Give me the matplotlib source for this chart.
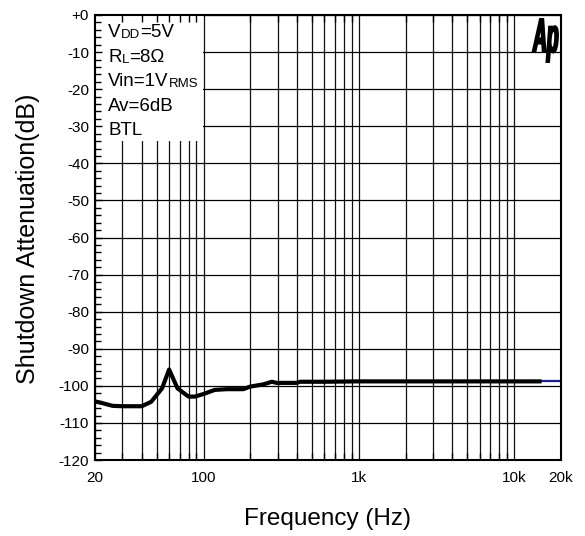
import matplotlib
matplotlib.use("Agg")
import matplotlib.pyplot as plt
from matplotlib.patches import Rectangle, PathPatch
from matplotlib.textpath import TextPath
from matplotlib.font_manager import FontProperties
from matplotlib.transforms import Affine2D, IdentityTransform

plt.rcParams['font.family'] = ['Liberation Sans', 'DejaVu Sans']

# ---- data ----
freq = [20, 22, 26, 30, 35, 40, 46, 54, 60, 68, 80, 88, 100, 118, 141, 180,
        200, 243, 275, 295, 398, 418, 600, 1000, 2000, 5000, 10000, 15000]
atten = [-104.2, -104.6, -105.4, -105.5, -105.5, -105.5, -104.3, -100.7, -95.6,
         -100.7, -102.9, -102.9, -102.2, -101.1, -100.9, -100.9, -100.2, -99.6,
         -98.9, -99.2, -99.2, -98.9, -98.9, -98.8, -98.8, -98.8, -98.8, -98.8]
freq_b = [15000, 20000]
atten_b = [-98.8, -98.8]

x_major = [20, 100, 1000, 10000, 20000]
x_major_labels = ["20", "100", "1k", "10k", "20k"]
x_grid = [20, 30, 40, 50, 60, 70, 80, 90, 100, 200, 300, 400, 500, 600, 700,
          800, 900, 1000, 2000, 3000, 4000, 5000, 6000, 7000, 8000, 9000,
          10000, 20000]
y_major = [0, -10, -20, -30, -40, -50, -60, -70, -80, -90, -100, -110, -120]
y_major_labels = ["+0", "-10", "-20", "-30", "-40", "-50", "-60", "-70", "-80",
                  "-90", "-100", "-110", "-120"]
y_minor = list(range(-120, 1, 2))

legend_lines = [("V", "DD", "=5V"), ("R", "L", "=8\u03a9"), ("Vin=1V", "RMS", ""),
                ("Av=6dB", "", ""), ("BTL", "", "")]

# ---- figure ----
fig = plt.figure(figsize=(5.85, 5.36), dpi=100)
ax = fig.add_axes([95/585, 1-460/536, 466/585, 445/536])
ax.set_xscale('log')
ax.set_xlim(20, 20000)
ax.set_ylim(-120, 0)

# grid lines
ax.vlines(x_grid, 0, 1, transform=ax.get_xaxis_transform(), colors='#111111',
          linewidth=0.9, zorder=0.5)
ax.hlines(y_major, 0, 1, transform=ax.get_yaxis_transform(), colors='black',
          linewidth=0.9, zorder=0.5)

# white legend box
ax.add_patch(Rectangle((20, -34), 99 - 20, 34, facecolor='white',
                       edgecolor='none', zorder=1))

# curves
ax.plot(freq_b, atten_b, color='#1a1aa0', linewidth=1.6, zorder=2.8)
ax.plot(freq, atten, color='black', linewidth=3.0, solid_joinstyle='round',
        solid_capstyle='butt', zorder=3)

# ticks
ax.set_xticks(x_major)
ax.set_xticklabels(x_major_labels)
ax.set_xticks(x_grid, minor=True)
ax.set_yticks(y_major)
ax.set_yticklabels(y_major_labels)
ax.set_yticks(y_minor, minor=True)
ax.tick_params(axis='both', which='both', direction='in', top=True, right=False,
               color='black', zorder=2)
ax.tick_params(axis='x', which='major', length=0, pad=8, labelsize=11)
ax.tick_params(axis='x', which='minor', length=5, width=1)
ax.tick_params(axis='y', which='major', length=5, width=1, pad=4.3, labelsize=11)
ax.tick_params(axis='y', which='minor', length=4, width=1)
for s in ax.spines.values():
    s.set_linewidth(1.5)
    s.set_zorder(4)

ax.set_xlabel("Frequency (Hz)", fontsize=17.5)
ax.xaxis.set_label_coords(0.5, -0.108)
ax.set_ylabel("Shutdown Attenuation(dB)", fontsize=18)
ax.yaxis.set_label_coords(-0.118, 0.497)

# legend text
y0 = 0.9506
dy = 0.0553
for i, (a, b, c) in enumerate(legend_lines):
    t1 = ax.text(0.028, y0 - i * dy, a, transform=ax.transAxes, fontsize=13.5,
                 ha='left', va='baseline', zorder=5)
    if b:
        t2 = ax.annotate(b, xy=(1, 0), xycoords=t1, fontsize=9.5, ha='left',
                         va='bottom', zorder=5)
        if c:
            ax.annotate(c, xy=(1, 0), xycoords=t2, fontsize=13.5, ha='left',
                        va='bottom', zorder=5)

# Ap logo (condensed bold italic)
fp = FontProperties(family='Liberation Sans', weight='bold', style='italic')
tp = TextPath((0, 0), "Ap", size=48, prop=fp)
trans = Affine2D().scale(0.40, 1.0).translate(533, 536 - 52) + IdentityTransform()
logo = PathPatch(tp, transform=trans, facecolor='black', edgecolor='black',
                 linewidth=1.4)
fig.patches.append(logo)
logo.set_figure(fig)

fig.savefig("out.png", dpi=100)
